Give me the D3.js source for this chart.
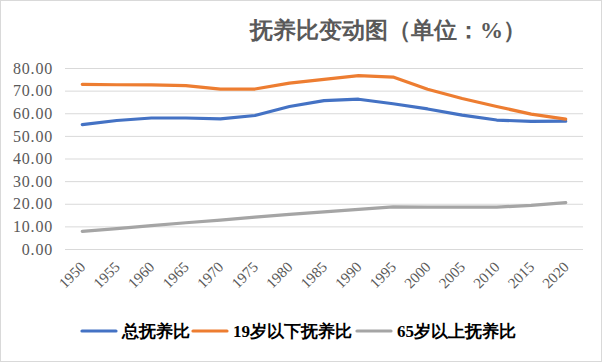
<!DOCTYPE html>
<html>
<head>
<meta charset="utf-8">
<script src="https://cdn.jsdelivr.net/npm/d3@7"></script>
<style>
  body { margin: 0; background: #fff; }
  svg { display: block; }
  .serif { font-family: "Liberation Serif", "Times New Roman", "DejaVu Serif", serif; }
</style>
</head>
<body>
<svg id="chart"></svg>
<script>
'use strict';

const years = ['1950','1955','1960','1965','1970','1975','1980','1985','1990','1995','2000','2005','2010','2015','2020'];
const total = [55.0, 56.8, 57.9, 57.9, 57.5, 59.0, 63.0, 65.6, 66.2, 64.2, 61.9, 59.2, 57.0, 56.4, 56.5];
const young = [72.8, 72.6, 72.5, 72.2, 70.7, 70.7, 73.3, 75.0, 76.6, 76.0, 70.6, 66.5, 63.0, 59.6, 57.4];
const old = [7.8, 9.0, 10.3, 11.6, 12.8, 14.1, 15.3, 16.4, 17.5, 18.6, 18.5, 18.5, 18.5, 19.3, 20.5];
const yTicks = [0, 10, 20, 30, 40, 50, 60, 70, 80];

const seriesNames = ['总抚养比', '19岁以下抚养比', '65岁以上抚养比'];
const seriesColors = ['#4472C4', '#ED7D31', '#A5A5A5'];
const seriesData = [total, young, old];

const W = 602, H = 362;
const margin = {left: 65, right: 19, top: 68, bottom: 113};

const svg = d3.select('#chart').attr('width', W).attr('height', H);

// outer border
svg.append('rect')
  .attr('x', 0.5).attr('y', 0.5)
  .attr('width', W - 1).attr('height', H - 1)
  .attr('fill', '#fff').attr('stroke', '#d9d9d9');

const x = d3.scaleBand()
  .domain(years)
  .range([margin.left, W - margin.right]);

const y = d3.scaleLinear()
  .domain([0, 80])
  .range([H - margin.bottom, margin.top]);

// title
svg.append('text')
  .attr('class', 'serif')
  .attr('x', 388).attr('y', 38)
  .attr('text-anchor', 'middle')
  .attr('font-weight', 'bold')
  .attr('font-size', 23)
  .attr('fill', '#595959')
  .text('抚养比变动图（单位：%）');

// gridlines + y labels
const yAxis = d3.axisLeft(y)
  .tickValues(yTicks)
  .tickSize(-(W - margin.left - margin.right))
  .tickPadding(12)
  .tickFormat(d3.format('.2f'));

const gy = svg.append('g')
  .attr('transform', `translate(${margin.left},0)`)
  .call(yAxis)
  .attr('font-family', null);
gy.select('.domain').remove();
gy.selectAll('.tick line').attr('stroke', '#d9d9d9');
gy.selectAll('.tick text')
  .attr('class', 'serif')
  .attr('font-size', 16)
  .attr('letter-spacing', 0.8)
  .attr('fill', '#595959');

// x labels
const xAxis = d3.axisBottom(x).tickSize(0).tickPadding(0);
const gx = svg.append('g')
  .attr('transform', `translate(0,${H - margin.bottom})`)
  .call(xAxis)
  .attr('font-family', null);
gx.select('.domain').remove();
gx.selectAll('.tick text')
  .attr('class', 'serif')
  .attr('font-size', 15)
  .attr('fill', '#595959')
  .attr('text-anchor', 'end')
  .attr('dy', null)
  .attr('y', 0)
  .attr('transform', 'translate(4,19) rotate(-45)');

// lines
const line = d3.line()
  .x((d, i) => x(years[i]) + x.bandwidth() / 2)
  .y(d => y(d));

seriesData.forEach((s, k) => {
  svg.append('path')
    .datum(s)
    .attr('fill', 'none')
    .attr('stroke', seriesColors[k])
    .attr('stroke-width', 3.2)
    .attr('stroke-linejoin', 'round')
    .attr('stroke-linecap', 'round')
    .attr('d', line);
});

// legend
const legendX = [82, 193, 357];
const legend = svg.append('g');
seriesNames.forEach((name, k) => {
  const g = legend.append('g').attr('transform', `translate(${legendX[k]},331)`);
  g.append('line')
    .attr('x1', 0).attr('x2', 34)
    .attr('stroke', seriesColors[k])
    .attr('stroke-width', 3.2)
    .attr('stroke-linecap', 'round');
  g.append('text')
    .attr('class', 'serif')
    .attr('x', 40).attr('dy', '0.35em')
    .attr('font-weight', 'bold')
    .attr('font-size', 17)
    .attr('fill', '#000')
    .text(name);
});
</script>
</body>
</html>
